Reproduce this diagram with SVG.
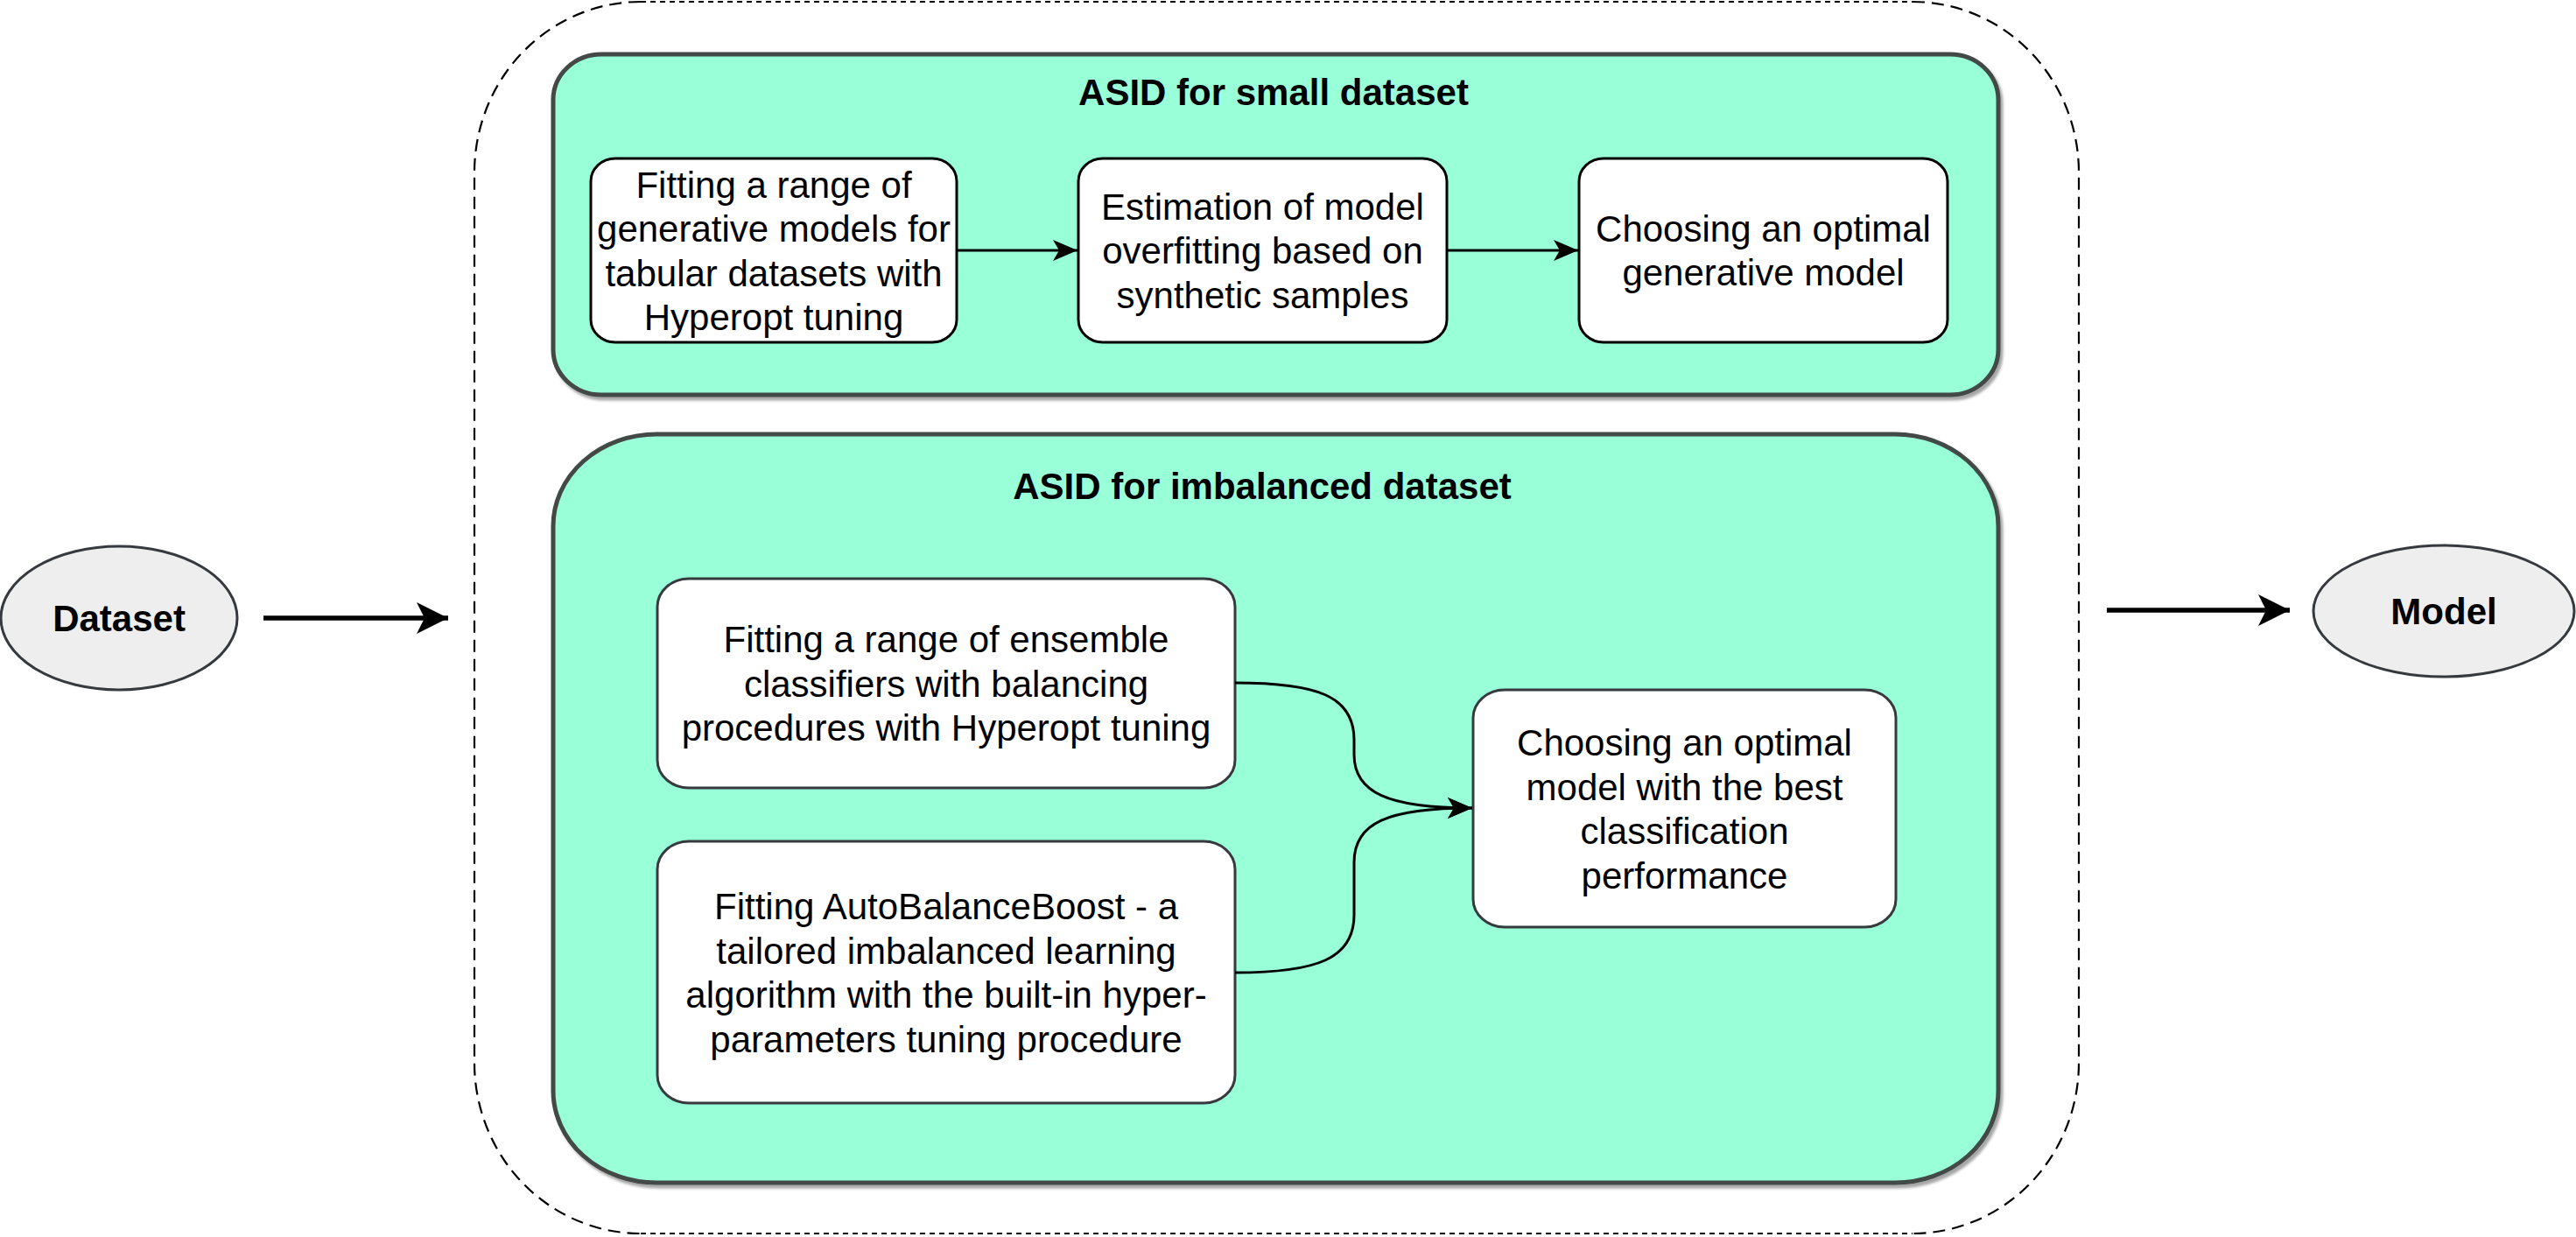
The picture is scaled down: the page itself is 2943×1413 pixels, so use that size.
<svg xmlns="http://www.w3.org/2000/svg" width="2943" height="1413" viewBox="0 0 2943 1413">
<style>
text{font-family:"Liberation Sans",Arial,sans-serif;font-size:42px;fill:#000;text-anchor:middle}
.b{font-weight:bold}
.grp{fill:#99FFD8;stroke:#424846;stroke-width:5}
.nodeK{fill:#fff;stroke:#000;stroke-width:3}
.nodeG{fill:#fff;stroke:#36393d;stroke-width:3}
.ell{fill:#eeeeee;stroke:#36393d;stroke-width:3}
.dash{fill:none;stroke:#000;stroke-width:2.2}
.edge{fill:none;stroke:#000;stroke-width:3}
.thick{fill:none;stroke:#000;stroke-width:5.5}
</style>
<defs>
<filter id="sh" x="-5%" y="-5%" width="110%" height="110%">
<feDropShadow dx="3" dy="4" stdDeviation="1.5" flood-color="#000" flood-opacity="0.35"/>
</filter>
<marker id="ar" markerUnits="userSpaceOnUse" markerWidth="30" markerHeight="26" refX="28" refY="12" orient="auto">
<path d="M0,0 L28,12 L0,24 L7,12 Z" fill="#000"/>
</marker>
<marker id="arB" markerUnits="userSpaceOnUse" markerWidth="40" markerHeight="40" refX="36" refY="18" orient="auto">
<path d="M0,0 L36,18 L0,36 L9,18 Z" fill="#000"/>
</marker>
</defs>

<g id="outer">
<path class="dash" stroke-dasharray="6 5" d="M732,2 L2185,2 M732,1409 L2185,1409"/>
<path class="dash" stroke-dasharray="14 8" d="M732,2 A190,195 0 0 0 542,197 L542,1214 A190,195 0 0 0 732,1409"/>
<path class="dash" stroke-dasharray="14 8" d="M2185,2 A190,195 0 0 1 2375,197 L2375,1214 A190,195 0 0 1 2185,1409"/>
</g>

<g id="small-group">
<rect class="grp" filter="url(#sh)" x="632" y="62" width="1651" height="389" rx="55" ry="52"/>
<text class="b" x="1455" y="120">ASID for small dataset</text>
</g>

<g id="imb-group">
<rect class="grp" filter="url(#sh)" x="632" y="496" width="1651" height="855" rx="118" ry="105"/>
<text class="b" x="1442" y="570">ASID for imbalanced dataset</text>
</g>

<g id="n1">
<rect class="nodeK" x="675" y="181" width="418" height="210" rx="28" ry="26"/>
<text x="884" y="225.5">Fitting a range of</text>
<text x="884" y="276">generative models for</text>
<text x="884" y="326.5">tabular datasets with</text>
<text x="884" y="377">Hyperopt tuning</text>
</g>

<g id="n2">
<rect class="nodeK" x="1232" y="181" width="421" height="210" rx="28" ry="26"/>
<text x="1442.5" y="250.5">Estimation of model</text>
<text x="1442.5" y="301">overfitting based on</text>
<text x="1442.5" y="351.5">synthetic samples</text>
</g>

<g id="n3">
<rect class="nodeK" x="1804" y="181" width="421" height="210" rx="28" ry="26"/>
<text x="2014.5" y="275.5">Choosing an optimal</text>
<text x="2014.5" y="326">generative model</text>
</g>

<g id="nA">
<rect class="nodeG" x="751" y="661" width="660" height="239" rx="36" ry="32"/>
<text x="1081" y="745">Fitting a range of ensemble</text>
<text x="1081" y="795.5">classifiers with balancing</text>
<text x="1081" y="846">procedures with Hyperopt tuning</text>
</g>

<g id="nB">
<rect class="nodeG" x="751" y="961" width="660" height="299" rx="36" ry="32"/>
<text x="1081" y="1050">Fitting AutoBalanceBoost - a</text>
<text x="1081" y="1100.5">tailored imbalanced learning</text>
<text x="1081" y="1151">algorithm with the built-in hyper-</text>
<text x="1081" y="1201.5">parameters tuning procedure</text>
</g>

<g id="nC">
<rect class="nodeG" x="1683" y="788" width="483" height="271" rx="36" ry="32"/>
<text x="1924.5" y="863">Choosing an optimal</text>
<text x="1924.5" y="913.5">model with the best</text>
<text x="1924.5" y="964">classification</text>
<text x="1924.5" y="1014.5">performance</text>
</g>

<g id="dataset">
<ellipse class="ell" cx="136" cy="706" rx="135" ry="82"/>
<text class="b" x="136" y="721">Dataset</text>
</g>

<g id="model">
<ellipse class="ell" cx="2792" cy="698" rx="149" ry="75"/>
<text class="b" x="2792" y="713">Model</text>
</g>

<g id="connectors">
<path class="edge" marker-end="url(#ar)" d="M1093,286 L1231,286"/>
<path class="edge" marker-end="url(#ar)" d="M1653,286 L1803,286"/>
<path class="edge" marker-end="url(#ar)" d="M1411,780 C1505,780 1547,795 1547,845 L1547,862 C1547,905 1585,923 1682,923"/>
<path class="edge" marker-end="url(#ar)" d="M1411,1111 C1505,1111 1547,1095 1547,1045 L1547,985 C1547,940 1585,923 1682,923"/>
<path class="thick" marker-end="url(#arB)" d="M301,706 L512,706"/>
<path class="thick" marker-end="url(#arB)" d="M2407,697 L2616,697"/>
</g>
</svg>
